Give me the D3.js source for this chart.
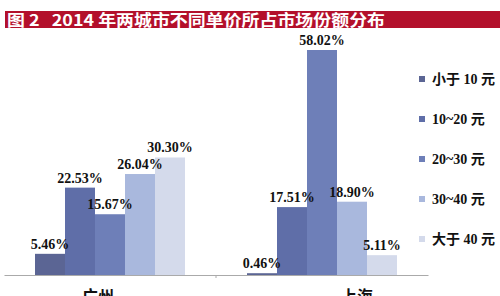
<!DOCTYPE html>
<html>
<head>
<meta charset="utf-8">
<script src="https://cdn.jsdelivr.net/npm/d3@7"></script>
<style>
  body { margin: 0; background: #fff; }
  svg { display: block; }
</style>
</head>
<body>
<svg id="chart"></svg>
<script>
const width = 500;
const height = 296;

const cities = ["广州", "上海"];
const priceRanges = ["小于 10 元", "10~20 元", "20~30 元", "30~40 元", "大于 40 元"];
const guangzhou = [5.46, 22.53, 15.67, 26.04, 30.30];
const shanghai = [0.46, 17.51, 58.02, 18.90, 5.11];
const colors = ["#5b6594", "#5f6ea8", "#6e7fb8", "#a9b8dd", "#d4daeb"];

const serif = "'Liberation Serif', 'Times New Roman', 'DejaVu Serif', 'Noto Sans CJK SC', serif";

const data = cities.map((c, i) => ({
  city: c,
  values: (i === 0 ? guangzhou : shanghai).map((v, j) => ({ range: priceRanges[j], value: v }))
}));

const svg = d3.select("#chart").attr("width", width).attr("height", height);

// title bar
svg.append("rect")
  .attr("x", 5).attr("y", 11)
  .attr("width", 495).attr("height", 17)
  .attr("fill", "#b3102b");

svg.append("text")
  .attr("x", 7).attr("y", 25.5)
  .attr("font-family", "Noto Sans CJK SC")
  .attr("font-weight", "bold")
  .attr("font-size", 16)
  .attr("fill", "#fff")
  .style("white-space", "pre")
  .attr("textLength", 378)
  .attr("lengthAdjust", "spacingAndGlyphs")
  .text("图 2   2014 年两城市不同单价所占市场份额分布");

const x0 = d3.scaleBand().domain(cities).range([4, 428]);
const x1 = d3.scaleBand().domain(priceRanges).range([0, 150]);
const y = d3.scaleLinear().domain([0, 58.02]).range([275, 50]);

// axis
const axis = svg.append("g")
  .attr("transform", "translate(0,275)")
  .call(d3.axisBottom(x0).tickSize(0).tickFormat(""));
axis.select(".domain").attr("stroke", "#aaa").attr("stroke-width", 1.2);
axis.append("line")
  .attr("x1", x0.step() + 4).attr("x2", x0.step() + 4)
  .attr("y1", 0).attr("y2", 3)
  .attr("stroke", "#aaa");

const groups = svg.selectAll(".group")
  .data(data)
  .enter()
  .append("g")
  .attr("class", "group")
  .attr("transform", d => `translate(${x0(d.city) + (x0.bandwidth() - 150) / 2},0)`);

groups.selectAll("rect")
  .data(d => d.values)
  .enter()
  .append("rect")
  .attr("x", d => x1(d.range))
  .attr("y", d => y(d.value))
  .attr("width", x1.bandwidth())
  .attr("height", d => y(0) - y(d.value))
  .attr("fill", (d, i) => colors[i]);

groups.selectAll(".val")
  .data(d => d.values)
  .enter()
  .append("text")
  .attr("class", "val")
  .attr("x", d => x1(d.range) + x1.bandwidth() / 2)
  .attr("y", d => y(d.value) - 5)
  .attr("text-anchor", "middle")
  .attr("font-family", serif)
  .attr("font-weight", "bold")
  .attr("font-size", 14)
  .attr("fill", "#111")
  .text(d => d.value.toFixed(2) + "%");

// category labels, cut by the bottom edge as in the original
const labelShift = [-12, 35];
svg.selectAll(".cat")
  .data(cities)
  .enter()
  .append("text")
  .attr("class", "cat")
  .attr("x", (d, i) => x0(d) + x0.bandwidth() / 2 + labelShift[i])
  .attr("y", 302)
  .attr("text-anchor", "middle")
  .attr("font-family", "Noto Sans CJK SC")
  .attr("font-weight", "bold")
  .attr("font-size", 16)
  .attr("fill", "#111")
  .text(d => d);

// legend
const legend = svg.append("g").attr("id", "legend");
priceRanges.forEach((r, i) => {
  legend.append("rect")
    .attr("x", 419).attr("y", 76 + i * 40)
    .attr("width", 6).attr("height", 6)
    .attr("fill", colors[i]);
  legend.append("text")
    .attr("x", 432).attr("y", 84 + i * 40)
    .attr("font-family", serif)
    .attr("font-weight", "bold")
    .attr("font-size", 14)
    .attr("fill", "#111")
    .text(r);
});
</script>
</body>
</html>
